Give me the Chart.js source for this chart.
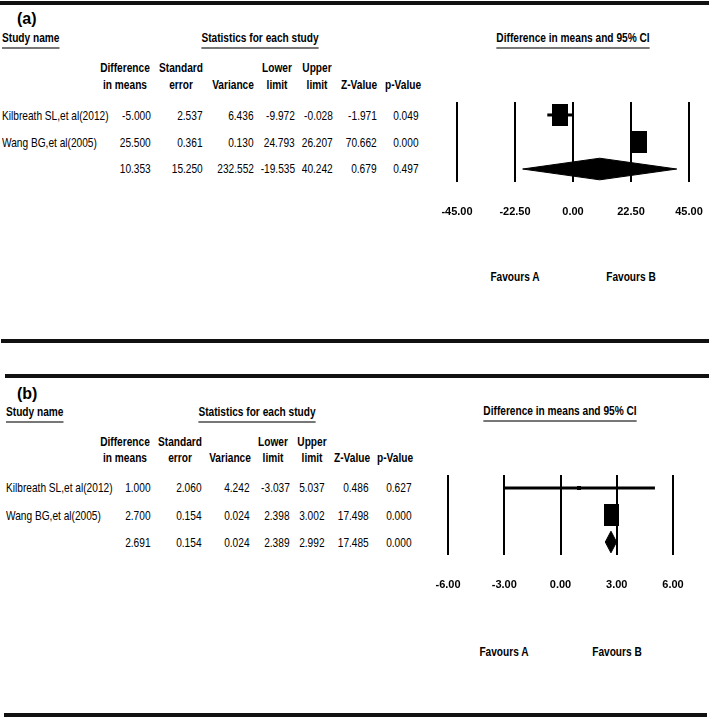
<!DOCTYPE html>
<html><head><meta charset="utf-8">
<script src="https://cdn.jsdelivr.net/npm/chart.js@4.4.1/dist/chart.umd.min.js"></script>
<style>
html,body{margin:0;padding:0;background:#fff;}
#page{position:relative;width:709px;height:719px;overflow:hidden;background:#fff;font-family:"Liberation Sans",Arial,sans-serif;color:#000;}
.t{position:absolute;white-space:nowrap;font-size:13px;line-height:16px;height:16px;}
.b{font-weight:bold;}
.big{font-size:16px;font-weight:bold;line-height:18px;height:18px;}
.u{text-decoration:underline;text-decoration-color:#777;text-decoration-thickness:1.5px;text-underline-offset:5px;}
.rule{position:absolute;background:#111;}
canvas{position:absolute;}
</style></head><body><div id="page">
<div class="rule" style="left:0;top:1px;width:709px;height:4px"></div>
<div class="rule" style="left:1px;top:339px;width:708px;height:4px"></div>
<div class="rule" style="left:5px;top:374px;width:704px;height:4px"></div>
<div class="rule" style="left:4px;top:713px;width:703px;height:4px"></div>
<canvas id="plotA" width="272" height="150" style="left:437px;top:90px;width:272px;height:150px"></canvas>
<canvas id="plotB" width="285" height="150" style="left:418px;top:463px;width:285px;height:150px"></canvas>
</div>
<script>
// ---------- data ----------
const studies = ['Kilbreath SL,et al(2012)', 'Wang BG,et al(2005)', ''];
const headers1 = ['Difference', 'Standard', '', 'Lower', 'Upper', '', ''];
const headers2 = ['in means', 'error', 'Variance', 'limit', 'limit', 'Z-Value', 'p-Value'];

// panel (a)
const diffA  = [-5.000, 25.500, 10.353];
const seA    = [2.537, 0.361, 15.250];
const varA   = [6.436, 0.130, 232.552];
const lowerA = [-9.972, 24.793, -19.535];
const upperA = [-0.028, 26.207, 40.242];
const zA     = [-1.971, 70.662, 0.679];
const pA     = [0.049, 0.000, 0.497];
const ticksA = [-45, -22.5, 0, 22.5, 45];

// panel (b)
const diffB  = [1.000, 2.700, 2.691];
const seB    = [2.060, 0.154, 0.154];
const varB   = [4.242, 0.024, 0.024];
const lowerB = [-3.037, 2.398, 2.389];
const upperB = [5.037, 3.002, 2.992];
const zB     = [0.486, 17.498, 17.485];
const pB     = [0.627, 0.000, 0.000];
const ticksB = [-6, -3, 0, 3, 6];

// ---------- text layout ----------
const SX = 0.78;
const page = document.getElementById('page');
function addText(s, x, y, align, cls, underline, sx) {
  if (sx === undefined) sx = SX;
  const d = document.createElement('div');
  d.className = 't ' + (cls || '');
  const h = (cls && cls.indexOf('big') >= 0) ? 18 : 16;
  d.style.top = (y - h / 2) + 'px';
  if (align === 'left') {
    d.style.left = x + 'px';
    d.style.transformOrigin = 'left center';
    d.style.transform = 'scaleX(' + sx + ')';
  } else if (align === 'right') {
    d.style.right = (709 - x) + 'px';
    d.style.transformOrigin = 'right center';
    d.style.transform = 'scaleX(' + sx + ')';
  } else {
    d.style.left = x + 'px';
    d.style.transformOrigin = 'center center';
    d.style.transform = 'translateX(-50%) scaleX(' + sx + ')';
  }
  if (underline) {
    const sp = document.createElement('span');
    sp.className = 'u'; sp.textContent = s; d.appendChild(sp);
  } else d.textContent = s;
  page.appendChild(d);
}

function panelText(L, cols) {
  addText(L.tag, L.tagX, L.tagY, 'left', 'big', false, 1);
  addText('Study name', L.nameX, L.titleY, 'left', 'b', true);
  addText('Statistics for each study', L.statsC, L.titleY, 'center', 'b', true);
  addText('Difference in means and 95% CI', L.plotC, L.plotTitleY, 'center', 'b', true);
  for (let c = 0; c < headers2.length; c++) {
    if (headers1[c]) addText(headers1[c], L.hdrC[c], L.hdr1, 'center', 'b');
    addText(headers2[c], L.hdrC[c], L.hdr2, 'center', 'b');
  }
  for (let r = 0; r < studies.length; r++) {
    if (studies[r]) addText(studies[r], L.nameX, L.rows[r], 'left', '');
    cols.forEach((arr, c) => addText(arr[r].toFixed(3), L.numR[c], L.rows[r], 'right', ''));
  }
  addText('Favours A', L.favA, L.favY, 'center', 'b');
  addText('Favours B', L.favB, L.favY, 'center', 'b');
}

panelText({tag:'(a)', tagX:17, tagY:19, nameX:2, titleY:38, statsC:260, plotC:573, plotTitleY:38,
  hdr1:68, hdr2:85, rows:[116,143,169], hdrC:[125,181,233,277,317,359,403],
  numR:[151,203,254,295,333,377,419], favA:515, favB:631, favY:277},
  [diffA, seA, varA, lowerA, upperA, zA, pA]);
panelText({tag:'(b)', tagX:17, tagY:394, nameX:6, titleY:412, statsC:257, plotC:560, plotTitleY:411,
  hdr1:442, hdr2:458, rows:[488,516,543], hdrC:[125,180,230,273,312,352,395],
  numR:[151,202,250,290,325,369,412], favA:504, favB:617, favY:652},
  [diffB, seB, varB, lowerB, upperB, zB, pB]);

// ---------- charts ----------
function hasFont(name) {
  const c = document.createElement('canvas').getContext('2d');
  const t = 'mmmmmmmmmmlli-45.00WwQ';
  c.font = 'bold 40px monospace'; const a = c.measureText(t).width;
  c.font = 'bold 40px "' + name + '", monospace'; const b = c.measureText(t).width;
  return Math.abs(a - b) > 0.5;
}
const NARROW = hasFont('Liberation Sans Narrow');
const TICK_FONT = NARROW ? {family:'"Liberation Sans Narrow"', size:13, weight:'bold'}
                         : {family:'"Liberation Sans", Arial, sans-serif', size:11, weight:'bold'};
const TICK_PAD = 2;
const TICK_LEN = 29.5 - TICK_FONT.size * 1.2 / 2 - TICK_PAD;
const DH = 0.4; // diamond half-height (row units)

function makeBox(w, h) {
  const c = document.createElement('canvas');
  c.width = w; c.height = h;
  const g = c.getContext('2d'); g.fillStyle = '#000'; g.fillRect(0, 0, w, h);
  return c;
}

function forest(id, lower, est, upper, axisTicks, boxStyles, pad) {
  const s = est.length - 1;
  const datasets = [];
  datasets.push({data: est.slice(0, s).map((v, i) => ({x: v, y: i})), showLine: false,
    pointStyle: boxStyles, pointRadius: 8, pointHoverRadius: 8, pointBorderWidth: 0,
    pointBackgroundColor: '#000', order: 0});
  for (let i = 0; i < s; i++) {
    datasets.push({data: [{x: lower[i], y: i}, {x: upper[i], y: i}], borderColor: '#000',
      borderWidth: 3, pointRadius: 0, pointHoverRadius: 0, order: 1});
  }
  datasets.push({data: [{x: lower[s], y: s}, {x: est[s], y: s - DH}, {x: upper[s], y: s},
      {x: est[s], y: s + DH}, {x: lower[s], y: s}],
    borderColor: '#000', borderWidth: 1, borderJoinStyle: 'round', backgroundColor: '#000',
    fill: 'shape', pointRadius: 0, pointHoverRadius: 0, order: 2});
  new Chart(document.getElementById(id), {
    type: 'line',
    data: {datasets},
    options: {
      responsive: false, animation: false, events: [],
      layout: {padding: pad},
      plugins: {legend: {display: false}, tooltip: {enabled: false}},
      scales: {
        x: {type: 'linear', position: 'bottom', min: axisTicks[0], max: axisTicks[axisTicks.length - 1],
          afterBuildTicks: sc => { sc.ticks = axisTicks.map(v => ({value: v})); },
          ticks: {callback: v => Number(v).toFixed(2), font: TICK_FONT, color: '#000',
            padding: TICK_PAD, maxRotation: 0, autoSkip: false},
          grid: {color: '#000', lineWidth: 2, drawTicks: true, tickLength: TICK_LEN,
            tickColor: 'rgba(0,0,0,0)'},
          border: {display: false},
          afterFit: sc => { sc.height = 50; }},
        y: {type: 'linear', display: false, reverse: true, min: -0.48, max: 2.48}
      }
    }
  });
}

forest('plotA', lowerA, diffA, upperA, ticksA, [makeBox(16, 22), makeBox(16, 22)],
  {left: 20, right: 20, top: 12, bottom: 8});
forest('plotB', lowerB, diffB, upperB, ticksB, [makeBox(4, 4), makeBox(15, 22)],
  {left: 30, right: 30, top: 12, bottom: 8});
</script>
</body></html>
